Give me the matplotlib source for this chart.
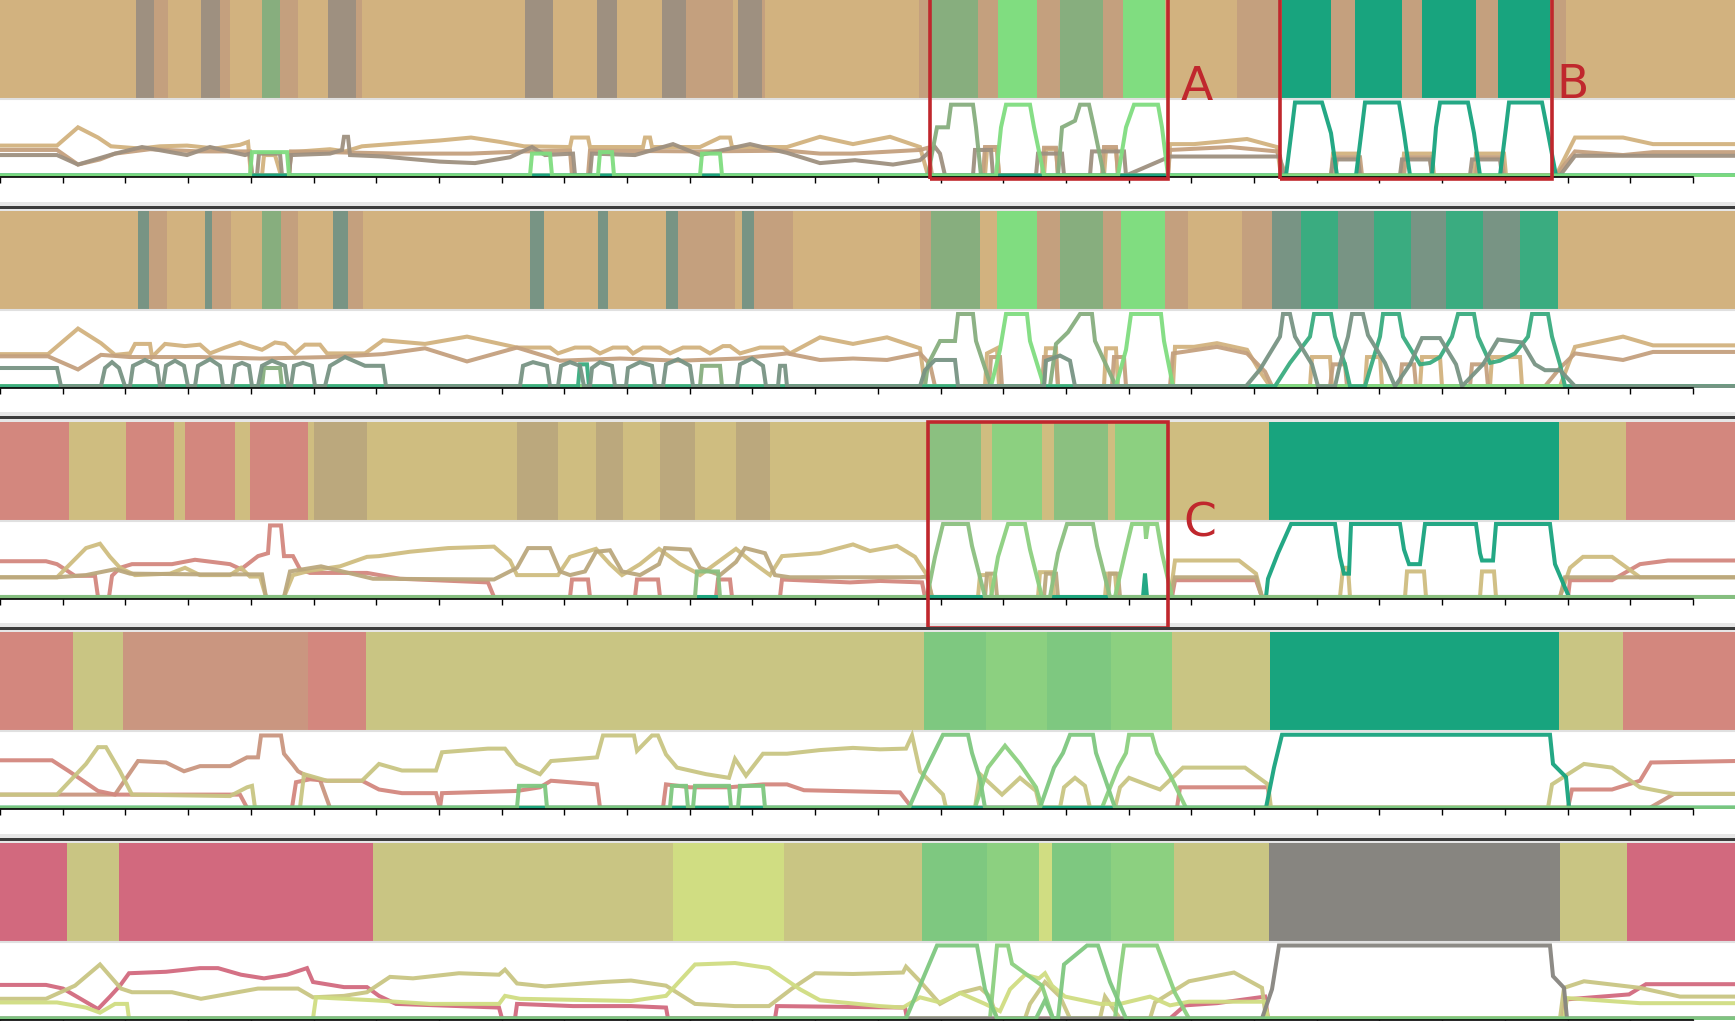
import matplotlib
matplotlib.use("Agg")
import matplotlib.pyplot as plt
from matplotlib.patches import Rectangle
import numpy as np

# ---------------- colours ----------------
COL = {
    "T": "#D2B27F", "G": "#9E9080", "L": "#C4A07E", "S": "#87AE7E", "B": "#80DD80",
    "Q": "#18A47E", "D": "#789484", "Q2": "#3AAC80",
    "R": "#D3877E", "Y": "#CFBD80", "K": "#BBA87D", "G1": "#8BC080", "G2": "#8CD080",
    "O": "#C9C583", "P": "#CA9680", "GG": "#7EC880", "LG": "#8CD080",
    "C": "#D2697E", "LI": "#D0DD82", "GR": "#878580",
}

N_FRAMES = 1735
N_TICKS = 27
TICK_STEP = 62.7

# ---------------- band segments (frame edges + state labels) ----------------
P1_EDGES = [0, 136, 154, 168, 201, 220, 230, 262, 280, 298, 328, 356, 362, 525, 553, 597, 617, 662, 686, 733,
            738, 762, 765, 919, 929, 978, 998, 1037, 1060, 1103, 1123, 1165, 1237, 1282, 1331, 1355, 1402, 1422,
            1476, 1498, 1550, 1566, 1735]
P1_STATES = ["T", "G", "L", "T", "G", "L", "T", "S", "L", "T", "G", "L", "T", "G", "T", "G", "T", "G", "L", "T",
             "G", "L", "T", "L", "S", "L", "B", "L", "S", "L", "B", "T", "L", "Q", "L", "Q", "L", "Q", "L", "Q",
             "L", "T"]

P2_EDGES = [0, 138, 149, 167, 205, 212, 231, 262, 281, 298, 333, 348, 363, 530, 544, 598, 608, 666, 678, 735,
            742, 754, 793, 920, 931, 980, 997, 1037, 1060, 1103, 1121, 1165, 1188, 1242, 1272, 1301, 1338, 1374,
            1411, 1446, 1483, 1520, 1558, 1735]
P2_STATES = ["T", "D", "L", "T", "D", "L", "T", "S", "L", "T", "D", "L", "T", "D", "T", "D", "T", "D", "L", "T",
             "D", "L", "T", "L", "S", "T", "B", "L", "S", "L", "B", "L", "T", "L", "D", "Q2", "D", "Q2", "D", "Q2",
             "D", "Q2", "T"]

P3_EDGES = [0, 69, 126, 174, 185, 235, 250, 308, 314, 367, 517, 558, 596, 623, 660, 695, 736, 770, 927, 981,
            992, 1042, 1054, 1108, 1115, 1168, 1269, 1559, 1626, 1735]
P3_STATES = ["R", "Y", "R", "Y", "R", "Y", "R", "Y", "K", "Y", "K", "Y", "K", "Y", "K", "Y", "K", "Y", "G1",
             "Y", "G2", "Y", "G1", "Y", "G2", "Y", "Q", "Y", "R"]

P4_EDGES = [0, 73, 123, 308, 366, 924, 986, 1047, 1111, 1172, 1270, 1559, 1623, 1735]
P4_STATES = ["R", "O", "P", "R", "O", "GG", "LG", "GG", "LG", "O", "Q", "O", "R"]

P5_EDGES = [0, 67, 119, 373, 673, 784, 922, 987, 1039, 1052, 1111, 1174, 1269, 1560, 1627, 1735]
P5_STATES = ["C", "O", "C", "O", "LI", "O", "GG", "LG", "LI", "GG", "LG", "O", "GR", "O", "C"]

# ---------------- state probability series (frame, probability) ----------------
P1_TAN = [(0,.41),(57,.41),(78,.66),(98,.52),(111,.40),(140,.37),(160,.40),(187,.41),(215,.37),(240,.42),(248,.46),
          (251,0),(262,0),(264,.28),(275,.28),(281,0),(289,0),(291,.32),(330,.36),(345,.33),(362,.40),(400,.44),
          (440,.48),(471,.52),(500,.46),(524,.40),(570,.39),(572,.52),(588,.52),(590,.39),(643,.39),(645,.52),
          (650,.52),(652,.39),(700,.39),(720,.52),(730,.52),(732,.39),(787,.39),(820,.53),(853,.43),(890,.53),
          (920,.39),(928,0),(985,0),(987,.35),(997,.35),(999,0),(1044,0),(1046,.36),(1056,.36),(1058,0),(1104,0),
          (1106,.35),(1116,.35),(1118,0),(1168,0),(1170,.43),(1194,.43),(1247,.50),(1277,.39),(1281,0),(1331,0),
          (1333,.30),(1358,.30),(1360,0),(1402,0),(1404,.30),(1432,.30),(1434,0),(1474,0),(1476,.30),(1504,.30),
          (1506,0),(1556,0),(1575,.52),(1623,.52),(1653,.43),(1735,.43)]
P1_LBROWN = [(0,.35),(57,.35),(78,.15),(100,.22),(115,.30),(150,.36),(200,.33),(250,.33),(252,0),(289,0),(291,.33),
             (400,.30),(470,.30),(524,.33),(570,.34),(572,0),(588,0),(590,.34),(700,.33),(787,.34),(820,.30),
             (853,.30),(893,.33),(920,.35),(928,.38),(932,0),(983,0),(985,.39),(997,.39),(999,0),(1042,0),(1044,.38),
             (1056,.38),(1058,0),(1102,0),(1104,.39),(1116,.39),(1118,0),(1168,0),(1170,.35),(1230,.39),(1277,.33),
             (1286,0),(1335,0),(1337,.25),(1360,.25),(1362,0),(1404,0),(1406,.25),(1430,.25),(1432,0),(1476,0),
             (1478,.25),(1502,.25),(1504,0),(1556,0),(1575,.33),(1623,.28),(1653,.32),(1735,.32)]
P1_GREY = [(0,.28),(57,.28),(78,.15),(115,.30),(142,.39),(187,.28),(210,.39),(245,.28),(250,.30),(252,0),(257,0),
           (259,.30),(280,.30),(282,0),(289,0),(291,.28),(330,.30),(342,.35),(344,.53),(348,.53),(350,.28),(383,.26),
           (440,.19),(475,.17),(510,.25),(532,.39),(545,.28),(573,.30),(575,0),(590,0),(592,.30),(635,.28),(673,.43),
           (700,.28),(750,.43),(787,.31),(820,.17),(855,.21),(893,.15),(920,.21),(935,.39),(940,.30),(945,0),(973,0),
           (975,.35),(991,.35),(993,0),(1036,0),(1038,.30),(1062,.30),(1064,0),(1090,0),(1092,.33),(1124,.33),
           (1126,0),(1170,.26),(1280,.26),(1283,0),(1331,0),(1333,.22),(1358,.22),(1360,0),(1400,0),(1402,.22),
           (1430,.22),(1432,0),(1470,0),(1472,.22),(1500,.22),(1502,0),(1560,0),(1575,.27),(1735,.27)]
P1_SAGE = [(0,0),(928,0),(932,.30),(937,.66),(948,.66),(951,.97),(973,.97),(976,.66),(981,0),(1058,0),(1062,.66),
           (1075,.75),(1080,.97),(1089,.97),(1094,.66),(1104,0),(1735,0)]
P1_TEAL = [(0,0),(1286,0),(1292,.66),(1295,1.0),(1322,1.0),(1331,.58),(1337,0),(1356,0),(1362,.66),(1365,1.0),
           (1399,1.0),(1404,.58),(1410,0),(1432,0),(1436,.66),(1440,1.0),(1468,1.0),(1474,.58),(1480,0),(1500,0),
           (1506,.66),(1509,1.0),(1542,1.0),(1548,.58),(1556,0),(1735,0)]
P1_BRIGHT = [(0,0),(250,0),(252,.32),(287,.32),(289,0),(530,0),(532,.30),(550,.30),(552,0),(598,0),(600,.32),
             (612,.32),(614,0),(700,0),(702,.30),(720,.30),(722,0),(996,0),(1001,.66),(1006,.97),(1030,.97),
             (1034,.66),(1044,0),(1118,0),(1126,.66),(1134,.97),(1158,.97),(1162,.66),(1168,0),(1735,0)]

P2_TAN = [(0,.44),(48,.44),(78,.79),(101,.59),(115,.43),(130,.45),(135,.58),(150,.58),(152,.40),(165,.58),(185,.55),
          (200,.57),(210,.45),(225,.53),(240,.60),(250,.55),(262,.50),(275,.60),(285,.58),(295,.45),(305,.57),
          (320,.57),(327,.45),(365,.45),(383,.63),(425,.58),(467,.68),(517,.53),(550,.53),(558,.45),(575,.53),
          (590,.53),(600,.45),(613,.53),(627,.53),(633,.45),(643,.53),(660,.53),(670,.45),(683,.53),(700,.53),
          (710,.45),(723,.55),(730,.55),(740,.45),(760,.53),(783,.53),(790,.45),(820,.67),(853,.58),(887,.67),
          (920,.52),(925,0),(985,0),(987,.45),(997,.52),(999,0),(1044,0),(1046,.52),(1056,.52),(1058,0),(1104,0),
          (1106,.52),(1116,.52),(1118,0),(1173,0),(1175,.54),(1194,.54),(1217,.59),(1247,.50),(1260,.20),(1270,0),
          (1310,0),(1312,.40),(1330,.40),(1332,0),(1365,0),(1367,.40),(1380,.40),(1382,0),(1420,0),(1422,.40),
          (1440,.40),(1442,0),(1490,0),(1492,.40),(1520,.40),(1522,0),(1560,0),(1575,.54),(1623,.68),(1653,.56),
          (1735,.56)]
P2_LBROWN = [(0,.41),(48,.41),(78,.23),(101,.43),(130,.40),(200,.40),(260,.38),(330,.40),(383,.44),(425,.52),
             (467,.34),(517,.53),(560,.35),(620,.38),(680,.35),(740,.38),(787,.45),(820,.36),(853,.38),(887,.36),
             (920,.45),(930,.30),(935,0),(989,0),(991,.40),(1000,.40),(1002,0),(1042,0),(1044,.40),(1056,.40),
             (1058,0),(1112,0),(1114,.40),(1124,.40),(1126,0),(1170,0),(1173,.45),(1217,.54),(1247,.45),(1265,.20),
             (1272,0),(1330,0),(1333,.30),(1345,.30),(1347,0),(1400,0),(1402,.30),(1414,.30),(1416,0),(1470,0),
             (1472,.30),(1486,.30),(1488,0),(1545,0),(1560,.25),(1575,.45),(1623,.36),(1653,.47),(1735,.47)]
P2_SAGE = [(0,0),(262,0),(264,.25),(280,.25),(282,0),(700,0),(702,.28),(720,.28),(722,0),(925,0),(928,.30),
           (940,.62),(955,.62),(958,.99),(973,.99),(976,.62),(991,0),(1050,0),(1056,.58),(1068,.74),(1080,.99),
           (1092,.99),(1095,.62),(1116,0),(1735,0)]
P2_BRIGHT = [(0,0),(991,0),(1000,.50),(1006,.99),(1027,.99),(1030,.62),(1044,0),(1116,0),(1126,.50),(1131,.99),
             (1161,.99),(1164,.62),(1173,0),(1735,0)]
P2_TEAL2 = [(0,0),(578,0),(580,.30),(587,.30),(589,0),(1275,0),(1290,.32),(1310,.68),(1314,.99),(1331,.99),
            (1335,.68),(1345,.30),(1350,0),(1365,0),(1372,.32),(1380,.68),(1383,.99),(1399,.99),(1403,.68),
            (1420,.30),(1430,.32),(1440,.40),(1452,.68),(1458,.99),(1474,.99),(1478,.68),(1490,.32),(1500,.35),
            (1515,.45),(1528,.68),(1532,.99),(1548,.99),(1552,.68),(1560,.30),(1565,0),(1735,0)]
P2_DGREEN = [(0,.25),(57,.25),(61,0),(101,0),(105,.25),(112,.33),(119,.25),(125,0),(130,0),(133,.28),(145,.36),
             (157,.28),(160,0),(163,0),(166,.28),(175,.35),(184,.28),(188,0),(195,0),(198,.28),(210,.37),(220,.28),
             (223,0),(232,0),(235,.28),(242,.32),(249,.28),(252,0),(258,0),(262,.28),(272,.35),(285,.28),(288,0),
             (291,0),(294,.28),(303,.32),(312,.28),(315,0),(325,0),(330,.28),(345,.40),(365,.28),(383,.28),(386,0),
             (520,0),(523,.28),(533,.33),(547,.28),(550,0),(558,0),(561,.28),(570,.33),(580,.28),(584,0),(590,0),
             (592,.25),(600,.33),(612,.28),(615,0),(626,0),(628,.25),(640,.33),(652,.28),(655,0),(663,0),(666,.30),
             (678,.37),(690,.28),(693,0),(737,0),(740,.30),(752,.38),(763,.28),(766,0),(778,0),(780,.28),(785,.28),
             (787,0),(920,0),(925,.22),(935,.36),(955,.36),(958,0),(1044,0),(1046,.35),(1060,.42),(1070,.35),
             (1075,0),(1246,0),(1260,.23),(1280,.68),(1283,.99),(1290,.99),(1295,.68),(1312,.30),(1318,0),
             (1335,0),(1340,.30),(1348,.68),(1352,.99),(1363,.99),(1368,.70),(1385,.32),(1395,0),(1410,.30),
             (1422,.66),(1440,.66),(1456,.30),(1462,0),(1483,.30),(1498,.64),(1522,.60),(1535,.30),(1545,.22),
             (1560,.22),(1575,0),(1735,0)]

P3_RED = [(0,.49),(46,.49),(57,.45),(75,.29),(95,.29),(98,0),(109,0),(112,.29),(120,.40),(132,.45),(172,.45),
          (195,.51),(230,.45),(241,.38),(258,.56),(268,.60),(270,.98),(281,.98),(284,.56),(293,.56),(300,.38),
          (310,.33),(367,.33),(400,.25),(488,.20),(494,0),(570,0),(572,.24),(588,.24),(590,0),(635,0),(637,.24),
          (658,.24),(660,0),(716,0),(718,.24),(730,.24),(732,0),(780,0),(782,.24),(850,.20),(880,.22),(922,.20),
          (925,0),(1172,0),(1175,.23),(1256,.23),(1262,0),(1568,0),(1570,.23),(1612,.23),(1640,.45),(1668,.50),
          (1735,.50)]
P3_YTAN = [(0,.27),(57,.27),(86,.67),(100,.73),(110,.55),(120,.40),(135,.30),(170,.32),(185,.40),(200,.30),
           (230,.30),(241,.40),(250,.28),(260,.28),(266,0),(284,0),(293,.30),(310,.36),(340,.42),(367,.55),
           (379,.56),(410,.62),(448,.67),(494,.69),(510,.50),(517,.30),(558,.30),(570,.55),(596,.66),(610,.45),
           (622,.30),(640,.45),(659,.66),(680,.45),(694,.35),(700,.30),(715,.45),(736,.66),(750,.50),(770,.30),
           (782,.56),(820,.60),(853,.72),(870,.63),(897,.70),(915,.55),(927,.30),(932,0),(978,0),(980,.30),
           (990,.30),(992,0),(1038,0),(1040,.34),(1052,.34),(1054,0),(1105,0),(1107,.32),(1115,.32),(1117,0),
           (1170,0),(1175,.50),(1239,.50),(1256,.32),(1262,0),(1340,0),(1343,.40),(1348,.40),(1350,0),(1405,0),
           (1407,.35),(1424,.35),(1426,0),(1480,0),(1482,.35),(1494,.35),(1496,0),(1560,0),(1570,.40),(1583,.55),
           (1612,.55),(1640,.27),(1735,.27)]
P3_KGREY = [(0,.27),(57,.27),(86,.30),(115,.38),(130,.32),(200,.31),(262,.31),(266,0),(284,0),(290,.35),
            (321,.42),(373,.25),(494,.24),(517,.40),(528,.67),(550,.67),(560,.35),(570,.30),(585,.35),(596,.62),
            (610,.64),(622,.35),(640,.30),(659,.45),(665,.67),(690,.65),(700,.40),(720,.30),(736,.48),(745,.67),
            (765,.60),(775,.30),(790,.27),(920,.27),(927,.28),(932,0),(985,0),(987,.32),(995,.32),(997,0),
            (1044,0),(1046,.32),(1056,.32),(1058,0),(1108,0),(1110,.32),(1118,.32),(1120,0),(1170,0),(1175,.27),
            (1256,.27),(1262,0),(1560,0),(1565,.27),(1735,.27)]
P3_GREEN2 = [(0,0),(991,0),(998,.55),(1008,1.0),(1025,1.0),(1030,.65),(1042,0),(1115,0),(1125,.60),(1132,1.0),
             (1145,1.0),(1146,.80),(1148,1.0),(1157,1.0),(1162,.60),(1172,0),(1735,0)]
P3_TEAL = [(0,0),(1143,0),(1145,.32),(1147,0),(1266,0),(1268,.25),(1278,.60),(1291,1.0),(1335,1.0),(1340,.55),
           (1344,.32),(1349,.32),(1351,1.0),(1400,1.0),(1404,.65),(1409,.45),(1420,.45),(1425,1.0),(1476,1.0),
           (1480,.60),(1482,.50),(1493,.50),(1496,1.0),(1550,1.0),(1555,.45),(1569,0),(1735,0)]
P3_GREEN1 = [(0,0),(695,0),(697,.35),(718,.35),(720,0),(927,0),(935,.55),(943,1.0),(968,1.0),(972,.70),(985,0),
             (1050,0),(1058,.60),(1067,1.0),(1093,1.0),(1097,.70),(1110,0),(1735,0)]

P4_RED = [(0,.65),(52,.65),(69,.50),(98,.23),(115,.18),(240,.18),(247,0),(292,0),(296,.35),(310,.39),(327,.37),
          (362,.37),(379,.25),(402,.20),(436,.20),(440,0),(442,.20),(517,.23),(540,.28),(551,.37),(597,.32),
          (600,0),(663,0),(666,.32),(690,.28),(729,.28),(763,.32),(787,.32),(804,.24),(900,.21),(912,0),(1177,0),
          (1180,.28),(1268,.28),(1270,0),(1568,0),(1572,.25),(1612,.25),(1640,.37),(1651,.62),(1735,.64)]
P4_PINK = [(0,.18),(115,.18),(138,.64),(166,.62),(184,.50),(200,.57),(230,.57),(247,.69),(258,.69),(261,.99),
           (281,.99),(284,.74),(293,.59),(298,.50),(310,.41),(320,.38),(330,0),(1650,0),(1674,.19),(1735,.19)]
P4_OLIVE = [(0,.18),(57,.18),(86,.60),(98,.83),(106,.83),(120,.50),(132,.18),(230,.16),(247,.28),(252,.30),(255,0),
            (300,0),(304,.46),(327,.37),(362,.37),(379,.60),(402,.51),(436,.51),(442,.76),(488,.81),(505,.81),
            (517,.60),(540,.46),(551,.64),(597,.69),(603,.99),(634,.99),(637,.78),(652,.99),(658,.99),(666,.73),
            (677,.55),(706,.46),(729,.41),(735,.67),(746,.44),(763,.74),(787,.74),(820,.79),(853,.82),(880,.80),
            (906,.81),(912,.99),(920,.50),(943,.18),(946,0),(975,0),(980,.46),(1002,.18),(1020,.41),(1036,.23),
            (1040,0),(1060,0),(1064,.28),(1075,.41),(1085,.30),(1090,0),(1115,0),(1120,.28),(1129,.41),(1150,.30),
            (1160,.25),(1183,.55),(1245,.55),(1268,.32),(1271,0),(1548,0),(1552,.32),(1584,.60),(1612,.55),
            (1640,.28),(1674,.19),(1735,.19)]
P4_LGREEN = [(0,0),(975,0),(988,.55),(1005,.85),(1020,.60),(1036,.28),(1042,0),(1102,0),(1118,.55),(1126,.75),
             (1129,1.0),(1152,1.0),(1157,.75),(1170,.45),(1186,0),(1735,0)]
P4_TEAL = [(0,0),(1266,0),(1274,.55),(1282,1.0),(1550,1.0),(1553,.60),(1566,.42),(1569,0),(1735,0)]
P4_GREEN = [(0,0),(517,0),(519,.30),(545,.30),(547,0),(670,0),(672,.30),(686,.30),(688,0),(693,0),(695,.30),
            (729,.30),(731,0),(738,0),(740,.30),(763,.30),(765,0),(909,0),(925,.50),(943,1.0),(968,1.0),(972,.75),
            (980,.40),(985,0),(1040,0),(1054,.55),(1063,.75),(1070,1.0),(1093,1.0),(1096,.75),(1105,.40),(1115,0),
            (1735,0)]

P5_CRIMSON = [(0,.46),(46,.46),(63,.41),(98,.13),(110,.30),(120,.45),(129,.62),(166,.64),(200,.69),(218,.69),
              (241,.60),(264,.55),(287,.60),(307,.69),(313,.50),(344,.43),(367,.43),(379,.31),(396,.20),(459,.17),
              (499,.15),(502,0),(515,0),(517,.20),(573,.17),(631,.17),(666,.15),(668,0),(775,0),(777,.17),(905,.15),
              (907,0),(1170,0),(1185,.18),(1217,.21),(1265,.30),(1268,0),(1562,0),(1565,.26),(1629,.33),(1646,.47),
              (1735,.47)]
P5_OLIVE = [(0,.27),(46,.27),(75,.45),(100,.74),(121,.41),(132,.36),(172,.36),(201,.27),(258,.41),(298,.41),
            (313,.29),(344,.31),(367,.36),(390,.57),(413,.55),(459,.62),(499,.60),(505,.67),(517,.48),(545,.44),
            (603,.50),(631,.52),(666,.45),(695,.20),(735,.17),(769,.17),(792,.41),(815,.62),(853,.61),(903,.63),
            (906,.71),(920,.51),(940,.20),(960,.35),(980,.42),(990,.30),(997,0),(1025,0),(1030,.20),(1045,.50),
            (1060,.30),(1070,0),(1100,0),(1105,.30),(1120,0),(1150,0),(1155,.22),(1189,.51),(1234,.63),(1262,.42),
            (1266,0),(1560,0),(1564,.42),(1584,.51),(1640,.42),(1680,.30),(1735,.30)]
P5_LIME = [(0,.22),(57,.22),(86,.15),(100,.08),(115,.20),(127,.20),(129,0),(313,0),(316,.29),(373,.25),(430,.20),
           (499,.20),(505,.31),(520,.27),(631,.24),(666,.31),(695,.74),(735,.76),(769,.69),(800,.40),(820,.25),
           (880,.17),(903,.15),(920,.29),(940,.22),(960,.35),(985,.20),(1000,.10),(1010,.40),(1025,.60),(1039,.55),
           (1045,.62),(1052,.45),(1065,.30),(1100,.20),(1120,.20),(1135,.25),(1150,.30),(1170,.18),(1189,.23),
           (1265,.23),(1268,0),(1564,0),(1567,.28),(1640,.21),(1735,.21)]
P5_LGREEN = [(0,0),(990,0),(997,1.0),(1008,1.0),(1012,.75),(1042,.45),(1053,0),(1115,0),(1120,.60),(1124,1.0),
             (1157,1.0),(1175,.35),(1189,0),(1735,0)]
P5_GREY = [(0,0),(1262,0),(1272,.40),(1279,1.0),(1550,1.0),(1553,.58),(1564,.42),(1567,0),(1735,0)]
P5_GREEN = [(0,0),(906,0),(920,.45),(937,1.0),(977,1.0),(985,.40),(997,0),(1036,0),(1045,.25),(1053,0),(1058,0),
            (1064,.74),(1087,1.0),(1098,1.0),(1110,.50),(1126,0),(1735,0)]

PANELS = [
    (P1_EDGES, P1_STATES, [(P1_TAN, "T"), (P1_LBROWN, "L"), (P1_GREY, "G"), (P1_SAGE, "S"), (P1_TEAL, "Q"),
                           (P1_BRIGHT, "B")]),
    (P2_EDGES, P2_STATES, [(P2_TAN, "T"), (P2_LBROWN, "L"), (P2_SAGE, "S"), (P2_BRIGHT, "B"), (P2_TEAL2, "Q2"),
                           (P2_DGREEN, "D")]),
    (P3_EDGES, P3_STATES, [(P3_RED, "R"), (P3_YTAN, "Y"), (P3_KGREY, "K"), (P3_GREEN2, "G2"), (P3_TEAL, "Q"),
                           (P3_GREEN1, "G1")]),
    (P4_EDGES, P4_STATES, [(P4_PINK, "P"), (P4_RED, "R"), (P4_OLIVE, "O"), (P4_LGREEN, "LG"), (P4_TEAL, "Q"),
                           (P4_GREEN, "GG")]),
    (P5_EDGES, P5_STATES, [(P5_CRIMSON, "C"), (P5_OLIVE, "O"), (P5_LIME, "LI"), (P5_LGREEN, "LG"),
                           (P5_GREY, "GR"), (P5_GREEN, "GG")]),
]

# ---------------- layout ----------------
W, H = 1735, 1021
PERIOD = 210.75
AX_H = 177
Y_LO, Y_HI = -0.0205, 2.404
BAND_LO = 1.045

fig = plt.figure(figsize=(W / 100, H / 100), dpi=100)
fig.patch.set_facecolor("white")

axes = []
for i, (edges, states, series) in enumerate(PANELS):
    top = PERIOD * i
    ax = fig.add_axes([0, 1 - (top + AX_H) / H, 1, AX_H / H])
    ax.set_xlim(0, N_FRAMES)
    ax.set_ylim(Y_LO, Y_HI)
    ax.patch.set_alpha(0)
    # band of most likely state
    for k, st in enumerate(states):
        ax.broken_barh([(edges[k], edges[k + 1] - edges[k])], (BAND_LO, Y_HI - BAND_LO),
                       facecolors=COL[st], edgecolors="none")
    ax.axhline(BAND_LO, color="#e0e0e0", lw=1.5, zorder=3)
    # probability lines
    for pts, key in series:
        xs = [p[0] for p in pts]
        ys = [p[1] for p in pts]
        ax.plot(xs, ys, color=COL[key], lw=2.9, alpha=0.95, solid_joinstyle="miter", zorder=4)
    for s in ["top", "right", "left"]:
        ax.spines[s].set_visible(False)
    ax.spines["bottom"].set_bounds(0, N_TICKS * TICK_STEP)
    ax.spines["bottom"].set_linewidth(1.2)
    ax.spines["bottom"].set_zorder(5)
    ax.set_xticks(np.arange(N_TICKS + 1) * TICK_STEP)
    ax.set_xticklabels([])
    ax.set_yticks([])
    ax.tick_params(axis="x", direction="out", length=4, width=1.0, color="black")
    axes.append(ax)

# separators between panels
for i in range(1, 5):
    top = PERIOD * i
    fig.add_artist(Rectangle((0, 1 - (top + 1) / H), 1, 10 / H, transform=fig.transFigure,
                             facecolor="#e6e6e6", edgecolor="none", zorder=0))
    fig.add_artist(Rectangle((0, 1 - (top - 2) / H), 1, 3 / H, transform=fig.transFigure,
                             facecolor="#3c3c3c", edgecolor="none", zorder=1))

# highlighted regions
RED = "#C0272D"
BOXES = [(0, 930, 1168, -0.048, 2.43, "A", 1197, 1.20),
         (0, 1280, 1552, -0.048, 2.43, "B", 1573, 1.23),
         (2, 928, 1168, -0.425, 2.40, "C", 1200, 1.00)]
for pi, x0, x1, y0, y1, lab, tx, ty in BOXES:
    ax = axes[pi]
    ax.add_patch(Rectangle((x0, y0), x1 - x0, y1 - y0, fill=False, edgecolor=RED, lw=2.6,
                           clip_on=False, zorder=10))
    ax.text(tx, ty, lab, color=RED, fontsize=34, ha="center", va="center",
            family=["Liberation Sans Narrow", "DejaVu Sans"], zorder=10)

fig.savefig("out.png", dpi=100)
